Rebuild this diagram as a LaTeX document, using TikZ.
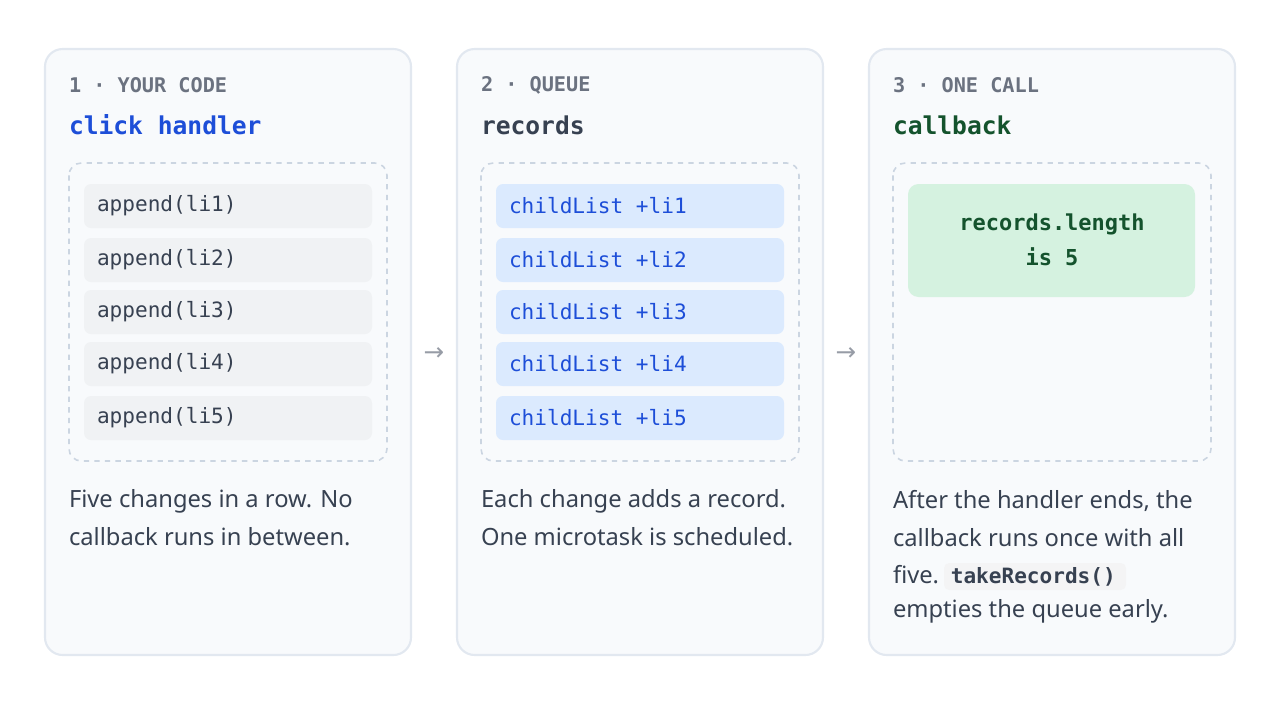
\documentclass[tikz,border=0pt]{standalone}
\usepackage{fontspec}
\setmainfont{Noto Sans}
\setmonofont{DejaVu Sans Mono}
\newfontfamily\arrowfont{DejaVu Sans}
\definecolor{cardbg}{HTML}{F8FAFC}
\definecolor{cardline}{HTML}{E2E8F0}
\definecolor{dashline}{HTML}{CBD5E1}
\definecolor{graybg}{HTML}{F0F2F4}
\definecolor{bluebg}{HTML}{DBEAFE}
\definecolor{bluetx}{HTML}{1D4ED8}
\definecolor{greenbg}{HTML}{D5F2E0}
\definecolor{greentx}{HTML}{14532D}
\definecolor{labeltx}{HTML}{6B7280}
\definecolor{bodytx}{HTML}{374151}
\begin{document}
\begin{tikzpicture}[x=0.02cm, y=-0.02cm]
\tikzset{ inner sep=0pt, outer sep=0pt,
  card/.style={draw=cardline, fill=cardbg, line width=1.2pt, rounded corners=10pt},
  well/.style={draw=dashline, dashed, line width=0.9pt, rounded corners=7pt},
  item/.style={fill=graybg, rounded corners=4pt},
  stage/.style={anchor=west, font=\ttfamily\bfseries\fontsize{11.5}{14}\selectfont, text=labeltx},
  title/.style={anchor=west, font=\ttfamily\bfseries\fontsize{14}{17}\selectfont},
  code/.style={anchor=west, font=\ttfamily\fontsize{12}{14}\selectfont, text=bodytx},
  body/.style={anchor=west, font=\fontsize{13.5}{16}\selectfont, text=bodytx},
  flow/.style={font=\arrowfont\fontsize{14}{16}\selectfont, text=labeltx!70},
}
\useasboundingbox (0,0) rectangle (1280,708);

% cards
\draw [card] (45,49)  rectangle (411,655);
\draw [card] (457,49) rectangle (823,655);
\draw [card] (869,49) rectangle (1235,655);

\node [flow] (A1) at (434,354) {→};
\node [flow] (A2) at (846,354) {→};

% card 1
\node [stage] (S1) at (69,85) {1 · YOUR CODE};
\node [title, text=bluetx] (T1) at (69,125) {click handler};
\draw [well] (69,163) rectangle (387,461);
\foreach \i/\y in {1/206,2/260,3/312,4/364,5/418} {
  \fill [item] (84,\y-22) rectangle (372,\y+22);
  \node [code] (C\i) at (97,\y) {append(li\i)};
}
\node [body] (B1a) at (69,501) {Five changes in a row. No};
\node [body] (B1b) at (69,537) {callback runs in between.};

% card 2
\node [stage] (S2) at (481,85) {2 · QUEUE};
\node [title, text=bodytx] (T2) at (481,125) {records};
\draw [well] (481,163) rectangle (799,461);
\foreach \i/\y in {1/206,2/260,3/312,4/364,5/418} {
  \fill [item, fill=bluebg] (496,\y-22) rectangle (784,\y+22);
  \node [code, text=bluetx] (Q\i) at (509,\y) {childList +li\i};
}
\node [body] (B2a) at (481,501) {Each change adds a record.};
\node [body] (B2b) at (481,537) {One microtask is scheduled.};

% card 3
\node [stage] (S3) at (893,85) {3 · ONE CALL};
\node [title, text=greentx] (T3) at (893,125) {callback};
\draw [well] (893,163) rectangle (1211,461);
\fill [item, fill=greenbg, rounded corners=6pt] (908,184) rectangle (1195,297);
\node [font=\ttfamily\bfseries\fontsize{12.5}{20}\selectfont, text=greentx, align=center] (R) at (1052,240) {records.length\\is 5};
\node [body] (B3a) at (893,501) {After the handler ends, the};
\node [body] (B3b) at (893,538) {callback runs once with all};
\fill [graybg!80!gray!30, rounded corners=3pt] (944,563) rectangle (1126,590);
\node [body] (B3c) at (893,576) {five. \hspace{2pt}{\ttfamily\bfseries\fontsize{12}{14}\selectfont takeRecords()}};
\node [body] (B3d) at (893,611) {empties the queue early.};
\end{tikzpicture}
\end{document}
